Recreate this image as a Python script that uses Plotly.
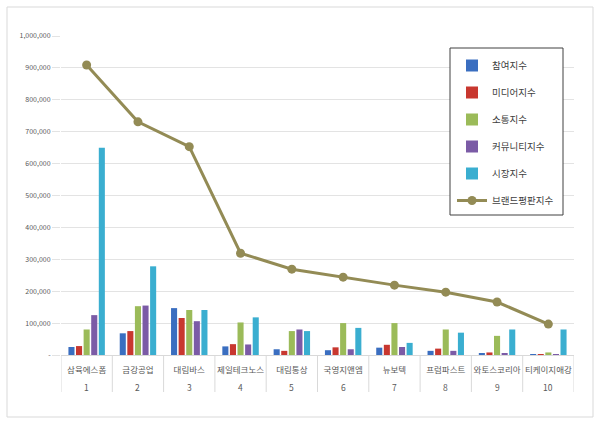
import plotly.graph_objects as go

ranks = ["1", "2", "3", "4", "5", "6", "7", "8", "9", "10"]
names = ["삼육에스폼", "금강공업", "대림바스", "제일테크노스", "대림통상",
         "국영지앤엠", "뉴보텍", "프럼파스트", "와토스코리아", "티케이지애강"]

participation = [25000, 68000, 147000, 27000, 18000, 15000, 23000, 13000, 5000, 2000]
media = [28000, 75000, 116000, 34000, 13000, 24000, 32000, 20000, 8000, 2000]
communication = [80000, 153000, 141000, 102000, 75000, 100000, 100000, 80000, 60000, 8000]
community = [125000, 155000, 106000, 33000, 80000, 18000, 25000, 13000, 5000, 2000]
market = [650000, 278000, 141000, 118000, 75000, 85000, 38000, 70000, 80000, 80000]
brand = [909000, 731000, 653000, 319000, 269000, 244000, 219000, 197000, 166000, 97000]

series_names = ["참여지수", "미디어지수", "소통지수", "커뮤니티지수", "시장지수"]
series_vals = [participation, media, communication, community, market]
colors = ["#3a6ec0", "#c8372f", "#9bbb59", "#7b5ba6", "#3aaed0"]

y_ticks = [0, 100000, 200000, 300000, 400000, 500000, 600000, 700000, 800000, 900000, 1000000]
y_labels = ["-"] + [f"{v:,}" for v in y_ticks[1:]]

x = names
font = "Noto Sans CJK KR"

fig = go.Figure()
for i, (nm, vals, c) in enumerate(zip(series_names, series_vals, colors)):
    fig.add_trace(go.Bar(x=x, y=vals, name=nm, marker=dict(color=c, line=dict(width=0)),
                         legendgroup=f"g{i}"))
fig.add_trace(go.Scatter(x=x, y=brand, name="브랜드평판지수", mode="lines+markers",
                         line=dict(color="#938b55", width=3),
                         marker=dict(color="#938b55", size=9),
                         legendgroup="g5"))

L, R, T, B = 61, 26, 36, 69
W, H = 600, 424
pw, ph = W - L - R, H - T - B

def px(xp):
    return (xp - L) / pw

def py(yp):
    return (H - B - yp) / ph

shapes = [
    dict(type="rect", xref="paper", yref="paper", x0=px(7), x1=px(593), y0=py(417), y1=py(7),
         line=dict(color="#d9d9d9", width=1), fillcolor="rgba(0,0,0,0)", layer="below"),
    dict(type="rect", xref="paper", yref="paper", x0=px(450), x1=px(563), y0=py(215), y1=py(48),
         line=dict(color="#404040", width=1), fillcolor="white", layer="above"),
]
for i in range(len(names) + 1):
    shapes.append(dict(type="line", xref="x", yref="paper", x0=i - 0.5, x1=i - 0.5,
                       y0=0, y1=py(392), line=dict(color="#d9d9d9", width=1)))

annotations = [
    dict(x=nm, y=py(387), xref="x", yref="paper", text=rk, showarrow=False,
         xanchor="center", yanchor="middle",
         font=dict(family=font, size=8.5, color="#595959"))
    for nm, rk in zip(names, ranks)
]

fig.update_layout(
    width=W, height=H,
    margin=dict(l=L, r=R, t=T, b=B, pad=0, autoexpand=False),
    paper_bgcolor="white", plot_bgcolor="white",
    font=dict(family=font, size=9, color="#595959"),
    barmode="group", bargap=0.26, bargroupgap=0.2,
    showlegend=True,
    legend=dict(x=px(452), y=py(51), xanchor="left", yanchor="top",
                bgcolor="rgba(0,0,0,0)", borderwidth=0,
                font=dict(family=font, size=9.5, color="#404040"),
                tracegroupgap=8, itemwidth=30),
    xaxis=dict(type="category", range=[-0.5, 9.5], showgrid=False, showline=True,
               linecolor="#d9d9d9", ticks="", tickangle=0, automargin=False,
               ticklabelstandoff=7,
               tickfont=dict(family=font, size=8.5, color="#595959")),
    yaxis=dict(range=[0, 1000000], tickvals=y_ticks, ticktext=y_labels, automargin=False,
               showgrid=True, gridcolor="#e3e3e3", gridwidth=1, zeroline=False,
               showline=False, ticks="outside", ticklen=8, tickcolor="#e3e3e3",
               tickfont=dict(family=font, size=7, color="#595959")),
    shapes=shapes,
    annotations=annotations,
)
fig.write_html("out.html")
